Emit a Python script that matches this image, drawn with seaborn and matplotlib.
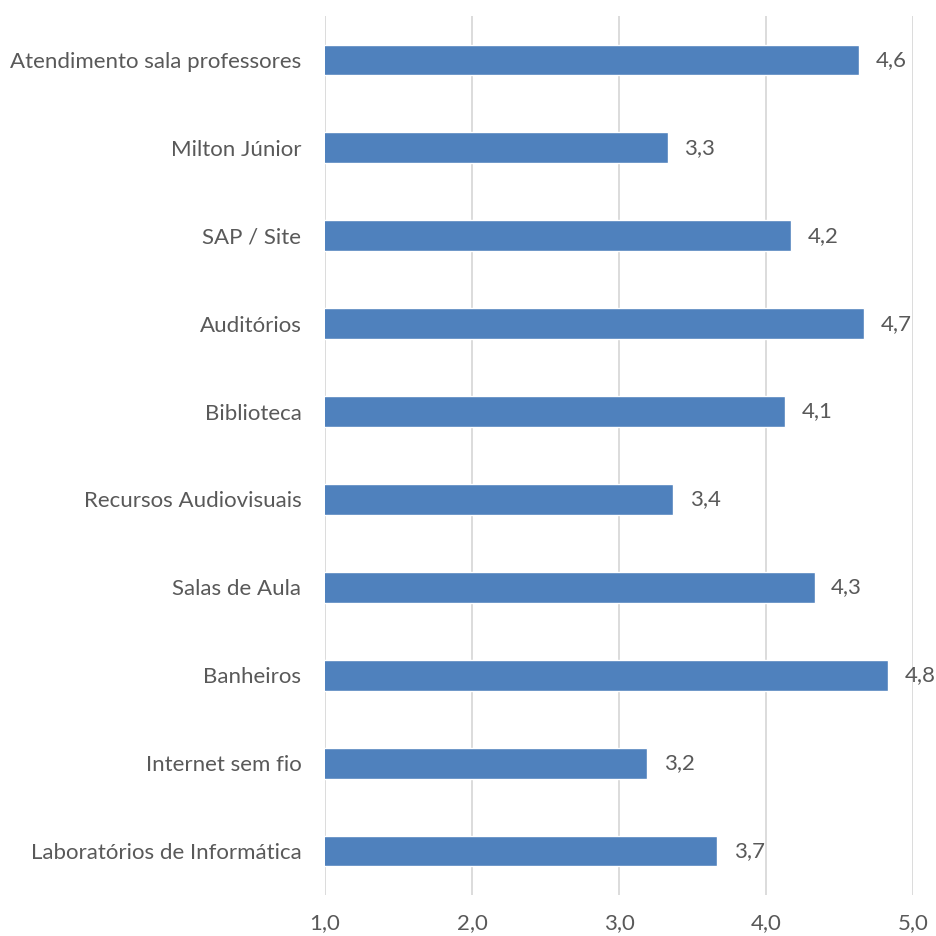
import matplotlib
matplotlib.use("Agg")
import matplotlib.pyplot as plt
import seaborn as sns
import pandas as pd

categories = ["Atendimento sala professores", "Milton Júnior", "SAP / Site", "Auditórios",
              "Biblioteca", "Recursos Audiovisuais", "Salas de Aula", "Banheiros",
              "Internet sem fio", "Laboratórios de Informática"]
values = [4.63, 3.33, 4.17, 4.67, 4.13, 3.37, 4.33, 4.83, 3.19, 3.67]
xticks = [1.0, 2.0, 3.0, 4.0, 5.0]

sns.set_theme(style="white")
plt.rcParams['font.family'] = ['Lato', 'DejaVu Sans']

df = pd.DataFrame({"cat": categories, "val": values})

fig = plt.figure(figsize=(9.37, 9.36), dpi=100)
ax = fig.add_axes([325/937, 1-895/936, (913-325)/937, (895-16)/936])

sns.barplot(data=df, x="val", y="cat", orient="h", color="#4F81BD", width=0.35,
            saturation=1, ax=ax, zorder=3)

ax.set_xlim(1, 5)
ax.set_xticks(xticks)
ax.set_xticklabels([f"{t:.1f}".replace(".", ",") for t in xticks])
ax.set_xlabel("")
ax.set_ylabel("")
ax.grid(axis="x", color="#D9D9D9", linewidth=1.3, zorder=0)
ax.grid(axis="y", visible=False)
for s in ax.spines.values():
    s.set_visible(False)
ax.tick_params(axis="both", length=0, labelsize=16, colors="#595959")
ax.tick_params(axis="x", pad=13)
ax.tick_params(axis="y", pad=17)

ax.bar_label(ax.containers[0], labels=[f"{v:.1f}".replace(".", ",") for v in values],
             padding=12, fontsize=16, color="#595959")

fig.savefig("out.png", dpi=100)
